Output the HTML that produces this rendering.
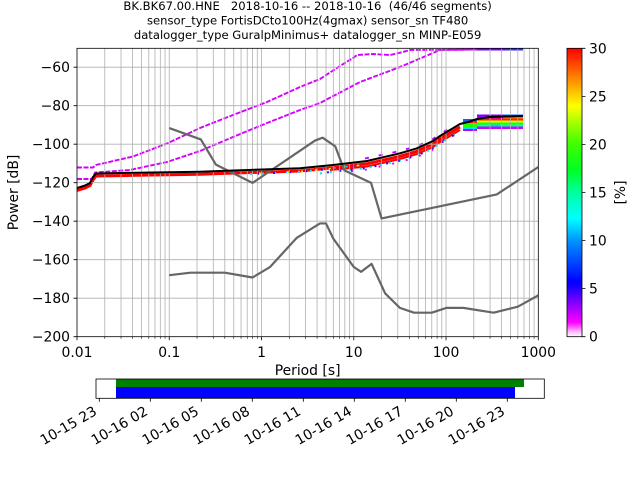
<!DOCTYPE html>
<html><head><meta charset="utf-8"><style>
html,body{margin:0;padding:0;background:#fff;}
svg{display:block;}
text{font-family:"DejaVu Sans","Liberation Sans",sans-serif;fill:#000;}
</style></head><body>
<svg width="640" height="480" viewBox="0 0 640 480" xmlns="http://www.w3.org/2000/svg">
<defs>
<linearGradient id="cb" x1="0" y1="1" x2="0" y2="0">
<stop offset="0" stop-color="#ffffff"/>
<stop offset="0.015" stop-color="#ffc0ff"/>
<stop offset="0.05" stop-color="#ff00ff"/>
<stop offset="0.11" stop-color="#9000ff"/>
<stop offset="0.17" stop-color="#2000ff"/>
<stop offset="0.19" stop-color="#0000ff"/>
<stop offset="0.33" stop-color="#0090ff"/>
<stop offset="0.41" stop-color="#00ffff"/>
<stop offset="0.50" stop-color="#00ffa0"/>
<stop offset="0.58" stop-color="#00ff20"/>
<stop offset="0.67" stop-color="#40ff00"/>
<stop offset="0.75" stop-color="#b0ff00"/>
<stop offset="0.80" stop-color="#ffff00"/>
<stop offset="0.90" stop-color="#ff8000"/>
<stop offset="1" stop-color="#ff0000"/>
</linearGradient>
<clipPath id="ax"><rect x="77" y="48.3" width="461.3" height="288.4"/></clipPath>
</defs>
<rect width="640" height="480" fill="#fff"/>

<!-- Title -->
<text x="307.6" y="10" font-size="11.6" text-anchor="middle" style="white-space:pre">BK.BK67.00.HNE   2018-10-16 -- 2018-10-16  (46/46 segments)</text>
<text x="307.6" y="24.5" font-size="11.6" text-anchor="middle" style="white-space:pre">sensor_type FortisDCto100Hz(4gmax) sensor_sn TF480</text>
<text x="307.6" y="39" font-size="11.6" text-anchor="middle" style="white-space:pre">datalogger_type GuralpMinimus+ datalogger_sn MINP-E059</text>

<g clip-path="url(#ax)">
<!-- PDF data: magenta outlier lines -->
<polyline fill="none" stroke="#d400ff" stroke-width="1.9" stroke-dasharray="5 1.5" points="77,167.5 93,167.5 96,165 133,156.5 167,143.5 200,128 233,115 267,102 300,87 320,79 340,66 353,58 357,55 373,54 390,55 403,52 410,50 477,49.5"/>
<polyline fill="none" stroke="#d400ff" stroke-width="1.9" stroke-dasharray="5 1.5" points="77,179 92,179 95,172.5 130,170 167,162 200,151 233,137 267,123 300,110 320,103 360,82 400,67 440,50 477,49.5"/>
<line x1="477" y1="49.5" x2="523" y2="49.5" stroke="#7a00ff" stroke-width="2"/>
<line x1="505" y1="49.5" x2="523" y2="49.5" stroke="#3030ff" stroke-width="2"/>

<!-- red main band -->
<polyline fill="none" stroke="#ff0000" stroke-width="3" points="77,190.5 85,188 90,185.5 93,180 96,176 137,175.3 200,174.3 227,173.3 300,171 333,167.8 367,163.8 400,156.3 417,151.3 433,144 440,139 450,133 460,127"/>
<!-- speckles on band -->
<polyline fill="none" stroke="#20d0ff" stroke-width="2" stroke-dasharray="2 10" points="250,174 300,171.8 333,168.6 367,164.6"/>
<polyline fill="none" stroke="#e0ff00" stroke-width="2" stroke-dasharray="2 12" stroke-dashoffset="5" points="250,174 300,171.8 333,168.6 367,164.6"/>
<polyline fill="none" stroke="#2000ff" stroke-width="2" stroke-dasharray="2 14" stroke-dashoffset="9" points="250,174 300,171.8 333,168.6 367,164.6"/>
<!-- speckle stripe below -->
<polyline fill="none" stroke="#ff0000" stroke-width="2" points="330,170 367,166.5 400,159 417,154 433,147 440,142 450,136 460,130"/>
<polyline fill="none" stroke="#00e0ff" stroke-width="2" stroke-dasharray="2 8" points="320,173.5 333,171.5 367,168 400,160.5 417,155.5 433,148.5 440,143.5 450,137.5 460,131.5"/>
<polyline fill="none" stroke="#3000ff" stroke-width="2" stroke-dasharray="2 10" stroke-dashoffset="5" points="320,173.5 333,171.5 367,168 400,160.5 417,155.5 433,148.5 440,143.5 450,137.5 460,131.5"/>
<polyline fill="none" stroke="#d000ff" stroke-width="1.8" stroke-dasharray="2 12" stroke-dashoffset="3" points="340,172.5 367,169.5 400,162 417,157 433,150"/>
<!-- magenta fringe above -->
<polyline fill="none" stroke="#c000ff" stroke-width="1.8" stroke-dasharray="4 10" points="365,158.5 400,151 417,146 433,139 440,134 450,128"/>

<!-- wide block -->
<rect x="463" y="119" width="14" height="2" fill="#1060ff"/>
<rect x="463" y="121" width="14" height="2" fill="#ff2000"/>
<rect x="463" y="123" width="14" height="4" fill="#20ff00"/>
<rect x="463" y="127" width="14" height="2" fill="#00e0ff"/>
<rect x="463" y="129" width="14" height="2" fill="#c000ff"/>
<rect x="477" y="114.5" width="26" height="2" fill="#8000ff"/>
<rect x="503" y="114.5" width="20" height="2" fill="#0060ff"/>
<rect x="477" y="116.5" width="26" height="2" fill="#c000ff"/>
<rect x="503" y="116.5" width="20" height="2" fill="#ff8000"/>
<rect x="477" y="118.5" width="46" height="2" fill="#ff2000"/>
<rect x="477" y="120.5" width="46" height="2" fill="#d8ff00"/>
<rect x="477" y="122.5" width="46" height="2" fill="#20ff00"/>
<rect x="477" y="124.5" width="46" height="2" fill="#00ffb0"/>
<rect x="477" y="126.5" width="46" height="2.5" fill="#d000ff"/>
<rect x="490" y="124.5" width="10" height="2" fill="#00d0ff"/>
</g>

<!-- Grid -->
<g stroke="#b0b0b0" stroke-width="0.8" fill="none">
<path d="M104.77 48.3V336.7M121.02 48.3V336.7M132.55 48.3V336.7M141.49 48.3V336.7M148.79 48.3V336.7M154.97 48.3V336.7M160.32 48.3V336.7M165.04 48.3V336.7
M197.03 48.3V336.7M213.28 48.3V336.7M224.81 48.3V336.7M233.75 48.3V336.7M241.05 48.3V336.7M247.23 48.3V336.7M252.58 48.3V336.7M257.3 48.3V336.7
M289.29 48.3V336.7M305.54 48.3V336.7M317.07 48.3V336.7M326.01 48.3V336.7M333.31 48.3V336.7M339.49 48.3V336.7M344.84 48.3V336.7M349.56 48.3V336.7
M381.55 48.3V336.7M397.8 48.3V336.7M409.33 48.3V336.7M418.27 48.3V336.7M425.57 48.3V336.7M431.75 48.3V336.7M437.1 48.3V336.7M441.82 48.3V336.7
M473.81 48.3V336.7M490.06 48.3V336.7M501.59 48.3V336.7M510.53 48.3V336.7M517.83 48.3V336.7M524.01 48.3V336.7M529.36 48.3V336.7M534.08 48.3V336.7
M169.26 48.3V336.7M261.52 48.3V336.7M353.78 48.3V336.7M446.04 48.3V336.7
M77 67.2H538.3M77 105.7H538.3M77 144.2H538.3M77 182.7H538.3M77 221.2H538.3M77 259.7H538.3M77 298.2H538.3"/>
</g>

<g clip-path="url(#ax)">
<!-- NLNM -->
<polyline fill="none" stroke="#666666" stroke-width="2.2" stroke-linejoin="round" points="169.26,275.17 190.52,272.67 224.81,272.67 252.58,277.48 270.14,266.91 296.6,237.97 319.97,223.45 326.01,223.45 333.31,238.64 353.78,267 361.09,271.81 371.6,263.89 385.19,293.44 399.88,307.86 414.05,312.67 431.75,312.67 446.44,307.86 463.34,307.86 493.63,312.65 517.83,306.67 538.3,295.32 560,282"/>
<!-- NHNM -->
<polyline fill="none" stroke="#666666" stroke-width="2.2" stroke-linejoin="round" points="169.26,128.09 200.85,139.43 215.87,164.62 252.58,182.88 315.01,140.58 322.67,137.7 335.27,146.35 344.34,170.39 371.08,182.88 381.55,218.45 496.78,194.42 538.3,167.06 560,159"/>
<!-- black curve -->
<polyline fill="none" stroke="#000" stroke-width="2" stroke-linejoin="round" points="77,188 85,185.5 90,183 93,177 96,173.5 137,172.7 200,171.7 227,170.7 300,168.3 333,165 367,161 400,153.3 417,148.3 433,141 440,136 450,130 460,124 470,121.5 477,119 490,117 523,116"/>
</g>

<!-- Axes frame -->
<rect x="77" y="48.3" width="461.3" height="288.4" fill="none" stroke="#000" stroke-width="0.8"/>
<!-- x ticks -->
<g stroke="#000" stroke-width="0.8">
<path d="M77 336.7v3.5M169.26 336.7v3.5M261.52 336.7v3.5M353.78 336.7v3.5M446.04 336.7v3.5M538.3 336.7v3.5"/>
<path stroke-width="0.6" d="M104.77 336.7v2M121.02 336.7v2M132.55 336.7v2M141.49 336.7v2M148.79 336.7v2M154.97 336.7v2M160.32 336.7v2M165.04 336.7v2M197.03 336.7v2M213.28 336.7v2M224.81 336.7v2M233.75 336.7v2M241.05 336.7v2M247.23 336.7v2M252.58 336.7v2M257.3 336.7v2M289.29 336.7v2M305.54 336.7v2M317.07 336.7v2M326.01 336.7v2M333.31 336.7v2M339.49 336.7v2M344.84 336.7v2M349.56 336.7v2M381.55 336.7v2M397.8 336.7v2M409.33 336.7v2M418.27 336.7v2M425.57 336.7v2M431.75 336.7v2M437.1 336.7v2M441.82 336.7v2M473.81 336.7v2M490.06 336.7v2M501.59 336.7v2M510.53 336.7v2M517.83 336.7v2M524.01 336.7v2M529.36 336.7v2M534.08 336.7v2"/>
<path d="M77 67.2h-3.5M77 105.7h-3.5M77 144.2h-3.5M77 182.7h-3.5M77 221.2h-3.5M77 259.7h-3.5M77 298.2h-3.5M77 336.7h-3.5"/>
</g>
<g font-size="13.9" text-anchor="middle">
<text x="77" y="357">0.01</text>
<text x="169.26" y="357">0.1</text>
<text x="261.52" y="357">1</text>
<text x="353.78" y="357">10</text>
<text x="446.04" y="357">100</text>
<text x="538.3" y="357">1000</text>
</g>
<g font-size="13.9" text-anchor="end">
<text x="70" y="71.9">−60</text>
<text x="70" y="110.4">−80</text>
<text x="70" y="148.9">−100</text>
<text x="70" y="187.4">−120</text>
<text x="70" y="225.9">−140</text>
<text x="70" y="264.4">−160</text>
<text x="70" y="302.9">−180</text>
<text x="70" y="341.4">−200</text>
</g>
<text font-size="13.9" text-anchor="middle" transform="translate(18,192.5) rotate(-90)">Power [dB]</text>
<text font-size="13.9" text-anchor="middle" x="307.6" y="375">Period [s]</text>

<!-- Colorbar -->
<rect x="567" y="48.3" width="15" height="288.4" fill="url(#cb)"/>
<rect x="567" y="48.3" width="15" height="288.4" fill="none" stroke="#000" stroke-width="0.8"/>
<g stroke="#000" stroke-width="0.8">
<path d="M582 336.7h3.5M582 288.6h3.5M582 240.6h3.5M582 192.5h3.5M582 144.4h3.5M582 96.4h3.5M582 48.3h3.5"/>
</g>
<g font-size="13.9">
<text x="589" y="341.7">0</text>
<text x="589" y="293.6">5</text>
<text x="589" y="245.6">10</text>
<text x="589" y="197.5">15</text>
<text x="589" y="149.4">20</text>
<text x="589" y="101.4">25</text>
<text x="589" y="53.3">30</text>
</g>
<text font-size="13.9" text-anchor="middle" transform="translate(625,192.5) rotate(-90)">[%]</text>

<!-- Timeline -->
<rect x="116" y="379" width="408" height="8" fill="#008000"/>
<rect x="116" y="387" width="399" height="11.3" fill="#0000ff"/>
<line x1="429.3" y1="379" x2="429.3" y2="387" stroke="#ff0000" stroke-width="0.6"/>
<rect x="96" y="379" width="448.3" height="19.3" fill="none" stroke="#000" stroke-width="0.8"/>
<g stroke="#000" stroke-width="0.8">
<path d="M99.3 398.3v3.5M150.3 398.3v3.5M201.3 398.3v3.5M252.3 398.3v3.5M303.3 398.3v3.5M354.3 398.3v3.5M405.3 398.3v3.5M456.3 398.3v3.5M507.3 398.3v3.5"/>
</g>
<g font-size="13.9" text-anchor="end">
<text transform="translate(97.8,414) rotate(-30)">10-15 23</text>
<text transform="translate(148.8,414) rotate(-30)">10-16 02</text>
<text transform="translate(199.8,414) rotate(-30)">10-16 05</text>
<text transform="translate(250.8,414) rotate(-30)">10-16 08</text>
<text transform="translate(301.8,414) rotate(-30)">10-16 11</text>
<text transform="translate(352.8,414) rotate(-30)">10-16 14</text>
<text transform="translate(403.8,414) rotate(-30)">10-16 17</text>
<text transform="translate(454.8,414) rotate(-30)">10-16 20</text>
<text transform="translate(505.8,414) rotate(-30)">10-16 23</text>
</g>
</svg>
</body></html>
